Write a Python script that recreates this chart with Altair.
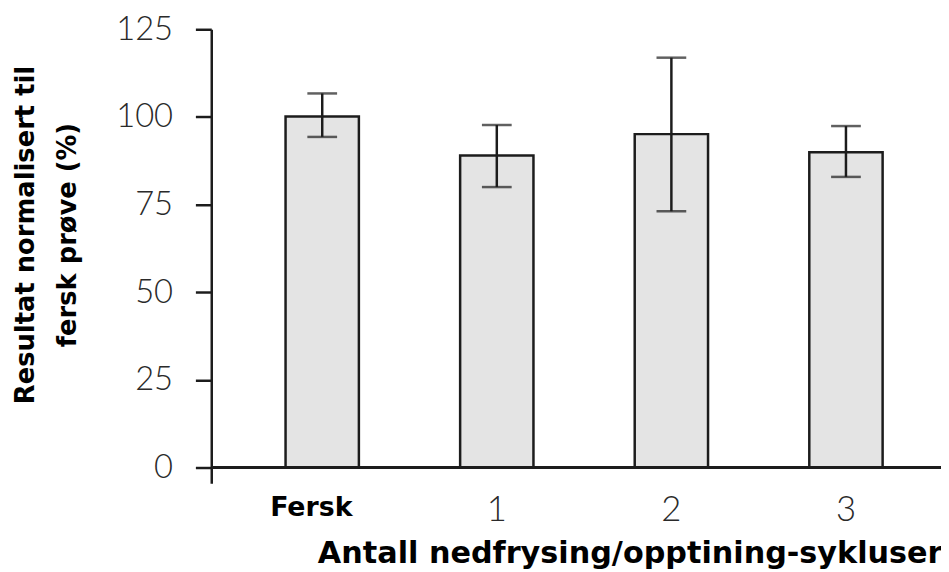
import altair as alt
import pandas as pd

categories = ["Fersk", "1", "2", "3"]
means = [100.1, 89.0, 95.1, 89.9]
err_low = [94.3, 80.0, 73.1, 82.9]
err_high = [106.7, 97.7, 116.9, 97.4]

df = pd.DataFrame({"cat": categories, "mean": means, "lo": err_low, "hi": err_high})

FONT = "Lato"
BOLD = "DejaVu Sans"
INK = "#1c1c1c"

xenc = alt.X(
    "cat:N",
    sort=categories,
    scale=alt.Scale(paddingInner=0.58, paddingOuter=0.38, align=0.56),
    axis=alt.Axis(
        title="Antall nedfrysing/opptining-sykluser",
        titleFont=BOLD,
        titleFontSize=30.5,
        titleFontWeight="bold",
        titleColor="#000000",
        titleX=422,
        titleY=80,
        titleAlign="center",
        titleBaseline="alphabetic",
        labelAngle=0,
        labelFont=alt.ExprRef("datum.value == 'Fersk' ? 'DejaVu Sans' : 'Lato'"),
        labelFontSize=alt.ExprRef("datum.value == 'Fersk' ? 27 : 35"),
        labelFontWeight=alt.ExprRef("datum.value == 'Fersk' ? 'bold' : 300"),
        labelColor=alt.ExprRef("datum.value == 'Fersk' ? '#000000' : '#2a2a2a'"),
        labelOffset=alt.ExprRef("datum.value == 'Fersk' ? -11 : 0"),
        labelPadding=alt.ExprRef("datum.value == 'Fersk' ? 32 : 37"),
        labelBaseline="alphabetic",
        domain=False,
        ticks=False,
        tickSize=0,
    ),
)

yscale = alt.Scale(domain=[-4.5, 125], nice=False, zero=False)
yaxis = alt.Axis(
    values=[0, 25, 50, 75, 100, 125],
    title=["Resultat normalisert til", "fersk prøve (%)"],
    titleFont=BOLD,
    titleFontSize=26,
    titleFontWeight="bold",
    titleColor="#000000",
    titleAngle=-90,
    titleX=-200,
    titleY=207,
    titleAlign="center",
    titleBaseline="top",
    titleLineHeight=42,
    labelFont=FONT,
    labelFontSize=33,
    labelFontWeight=300,
    labelColor="#2a2a2a",
    labelPadding=23,
    tickSize=16,
    tickWidth=2.5,
    tickColor=INK,
    domainColor=INK,
    domainWidth=2.5,
    grid=False,
)

bars = alt.Chart(df).mark_bar(
    fill="#e4e4e4", stroke=INK, strokeWidth=2.5
).encode(
    x=xenc,
    y=alt.Y("mean:Q", scale=yscale, axis=yaxis),
    y2=alt.Y2(datum=0),
)

stems = alt.Chart(df).mark_rule(color=INK, strokeWidth=2.5).encode(
    x=alt.X("cat:N", sort=categories),
    y="lo:Q",
    y2="hi:Q",
)

caps_top = alt.Chart(df).mark_tick(color=INK, thickness=2.5, size=30).encode(
    x=alt.X("cat:N", sort=categories),
    y="hi:Q",
)
caps_bot = alt.Chart(df).mark_tick(color=INK, thickness=2.5, size=30).encode(
    x=alt.X("cat:N", sort=categories),
    y="lo:Q",
)

baseline = alt.Chart(df).mark_rule(color=INK, strokeWidth=2.5).encode(
    y=alt.Y(datum=0)
)

chart = alt.layer(bars, baseline, stems, caps_top, caps_bot).properties(
    width=736,
    height=458,
    background="#ffffff",
    autosize=alt.AutoSizeParams(type="none"),
    padding={"left": 205, "top": 19, "right": 0, "bottom": 95},
).configure_view(strokeWidth=0, stroke=None)

chart.save("out.html", embed_options={"renderer": "svg", "actions": False})
